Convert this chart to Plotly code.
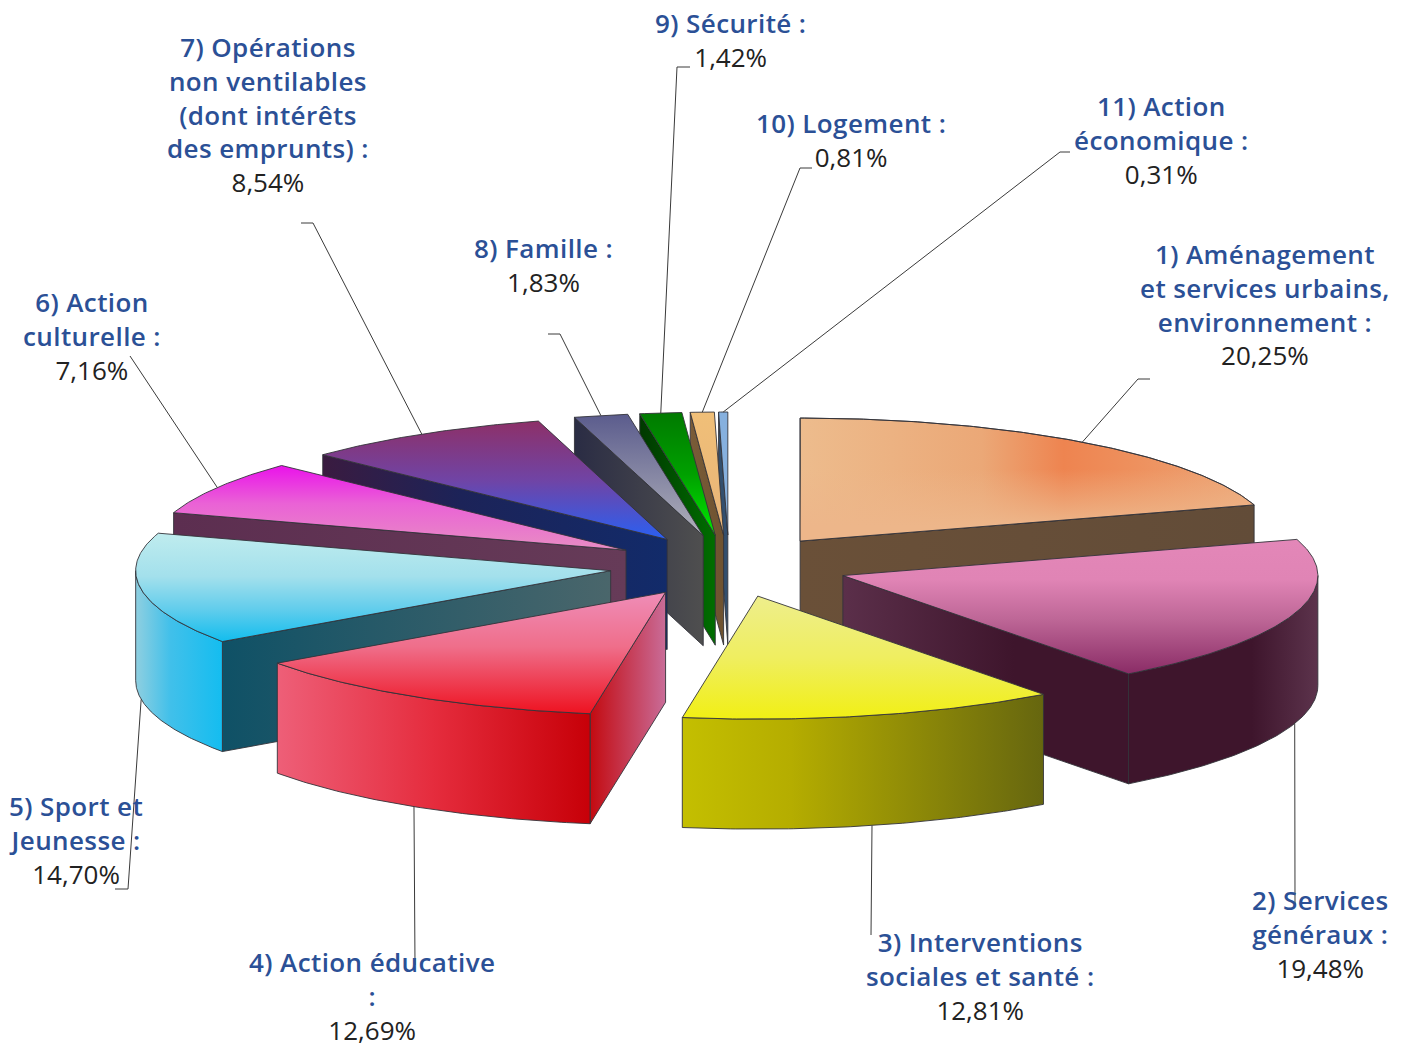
import numpy as np
import plotly.graph_objects as go

categories = [
    ["1) Aménagement", "et services urbains,", "environnement :"],
    ["2) Services", "généraux :"],
    ["3) Interventions", "sociales et santé :"],
    ["4) Action éducative", ":"],
    ["5) Sport et", "Jeunesse :"],
    ["6) Action", "culturelle :"],
    ["7) Opérations", "non ventilables", "(dont intérêts", "des emprunts) :"],
    ["8) Famille :"],
    ["9) Sécurité :"],
    ["10) Logement :"],
    ["11) Action", "économique :"],
]
values = [20.25, 19.48, 12.81, 12.69, 14.70, 7.16, 8.54, 1.83, 1.42, 0.81, 0.31]

# Projection of the exploded pie on the page
CX, CY, RX, RY, DEPTH, EXPLODE = 729, 566, 475, 123, 110, 0.252

top_colors = [
    [[0, "#edbc8d"], [0.4, "#eba877"], [0.58, "#ee8450"], [0.72, "#ee8f5c"], [1, "#eda677"]],
    [[0, "#e387b8"], [0.3, "#e084b5"], [0.6, "#bd6696"], [1, "#8a2c66"]],
    [[0, "#eeee8c"], [0.5, "#efee60"], [1, "#f1ef14"]],
    [[0, "#ef8db8"], [0.45, "#ef6e8a"], [1, "#ee1220"]],
    [[0, "#bfecee"], [0.4, "#a3e0ec"], [0.7, "#62cdec"], [1, "#12bdee"]],
    [[0, "#ea12ea"], [0.45, "#ea62d6"], [1, "#e88dc3"]],
    [[0, "#8d3068"], [0.5, "#7044a5"], [1, "#2a60f2"]],
    [[0, "#5b5c8d"], [1, "#b0b1ba"]],
    [[0, "#007a00"], [0.5, "#00a000"], [1, "#00ea00"]],
    [[0, "#f0bf78"], [1, "#e8b478"]],
    [[0, "#86b0de"], [1, "#86b0de"]],
]
edge_colors = [
    [[0, "#6a5038"], [1, "#624c38"]],
    [[0, "#5b2f4a"], [0.6, "#3e152c"], [1, "#3e152c"]],
    None,
    [[0, "#c30a10"], [1, "#c96c98"]],
    [[0, "#0f5166"], [1, "#4a666b"]],
    [[0, "#5c2e50"], [1, "#663b58"]],
    [[0, "#3a1b40"], [0.4, "#1c2358"], [1, "#122b6a"]],
    [[0, "#2a2c44"], [1, "#4f4f4f"]],
    [[0, "#003800"], [1, "#006e00"]],
    [[0, "#7a5c38"], [1, "#6e5230"]],
    [[0, "#334f6e"], [1, "#334f6e"]],
]
arc_colors = [
    None,
    [[0, "#3e152c"], [0.65, "#3e152c"], [1, "#5c334c"]],
    [[0, "#c4bf00"], [0.3, "#b5ad00"], [1, "#66660f"]],
    [[0, "#ee5f78"], [0.5, "#e52c3d"], [1, "#c70008"]],
    [[0, "#8fcfe0"], [0.4, "#41c0ea"], [1, "#14bdf0"]],
    None, None, None, None, None, None,
]

# Where the labels and the elbows of the leader lines sit (page pixels)
label_pos = [(1265, 255), (1320, 901), (980, 943), (372, 963), (76, 807), (92, 303),
             (268, 48), (543, 249), (730, 24), (851, 124), (1161, 107)]
leader_elbows = [
    [(1138, 379), (1150, 379)], [(1295, 905)], [(871, 935)], [(415, 965)],
    [(128, 889), (115, 889)], [(130, 356)], [(313, 223), (301, 223)],
    [(560, 334), (548, 334)], [(677, 67), (690, 67)], [(800, 168), (812, 168)],
    [(1060, 152), (1070, 152)],
]

BLUE, INK, OUTLINE = "#2b5096", "#222222", "#33333a"
FONT = "Open Sans, Noto Sans, sans-serif"


def face(xs, ys, colors, orientation, name, start=None, stop=None):
    xs, ys = np.asarray(xs, float), np.asarray(ys, float)
    if orientation == "vertical":
        lo, hi = ys.min(), ys.max()
    else:
        lo, hi = xs.min(), xs.max()
    return go.Scatter(
        x=np.append(xs, xs[0]), y=np.append(ys, ys[0]), mode="lines", fill="toself", name=name,
        line=dict(color=OUTLINE, width=0.9),
        fillgradient=dict(type=orientation, colorscale=colors,
                          start=lo if start is None else start,
                          stop=hi if stop is None else stop),
        hoverinfo="skip", showlegend=False,
    )


def rim(ax, ay, deg):
    t = np.radians(deg)
    return ax + RX * np.sin(t), ay - RY * np.cos(t)


cum = np.concatenate([[0], np.cumsum(values)]) * 3.6
starts, ends = cum[:-1], cum[1:]
mids = (starts + ends) / 2
apex_x = CX + EXPLODE * RX * np.sin(np.radians(mids))
apex_y = CY - EXPLODE * RY * np.cos(np.radians(mids))

fig = go.Figure()


def draw_wedge(i):
    a0, a1, ax, ay = starts[i], ends[i], apex_x[i], apex_y[i]
    name = " ".join(categories[i])
    # radial wall turned towards the viewer
    wall = a1 if a1 < 180 else (a0 if a0 > 180 else None)
    if wall is not None and edge_colors[i] is not None:
        rx_, ry_ = rim(ax, ay, wall)
        fig.add_trace(face([ax, rx_, rx_, ax], [ay, ry_, ry_ + DEPTH, ay + DEPTH],
                           edge_colors[i], "horizontal", name + " (paroi)"))
    # outer wall
    lo, hi = max(a0, 90), min(a1, 270)
    if hi > lo and arc_colors[i] is not None:
        th = np.linspace(lo, hi, 80)
        px, py = rim(ax, ay, th)
        fig.add_trace(face(np.r_[px, px[::-1]], np.r_[py, py[::-1] + DEPTH],
                           arc_colors[i], "horizontal", name + " (bord)"))
    # top
    th = np.linspace(a0, a1, max(int(a1 - a0) * 2, 6))
    px, py = rim(ax, ay, th)
    tx, ty = np.r_[ax, px], np.r_[ay, py]
    vertical = i != 0
    fig.add_trace(face(tx, ty, top_colors[i], "vertical" if vertical else "horizontal", name))
    if i == 0:  # peach wash over the lower part of the orange glow
        fig.add_trace(face(tx, ty, [[0, "rgba(237,182,138,0)"], [1, "rgba(237,182,138,1)"]],
                           "vertical", name + " (reflet)", start=ay - 72, stop=ay - 15))


for i in [10, 9, 8, 7, 6, 5, 4, 3, 0, 1, 2]:
    draw_wedge(i)

# leader lines start on the rim at each slice's mid-angle
for i, elbow in enumerate(leader_elbows):
    sx, sy = rim(apex_x[i], apex_y[i], mids[i])
    if 90 < mids[i] < 270:
        sy += DEPTH
    fig.add_trace(go.Scatter(
        x=[sx] + [p[0] for p in elbow], y=[sy] + [p[1] for p in elbow], mode="lines",
        line=dict(color="#3a3a3a", width=1), hoverinfo="skip", showlegend=False,
        name="repère " + str(i + 1),
    ))

for lines, v, (x, y) in zip(categories, values, label_pos):
    head = "<br>".join(
        f'<span style="color:{BLUE};font-weight:600;letter-spacing:0.4px">{s}</span>' for s in lines
    )
    pct = f"{v:.2f}".replace(".", ",") + "%"
    fig.add_annotation(
        x=x, y=y - 20, xref="x", yref="y", xanchor="center", yanchor="top", align="center",
        text=f'{head}<br><span style="color:{INK}">{pct}</span>', showarrow=False, borderpad=0,
        font=dict(family=FONT, size=26, color=INK),
    )

fig.update_layout(
    width=1410, height=1050, margin=dict(l=0, r=0, t=0, b=0),
    paper_bgcolor="white", plot_bgcolor="white", showlegend=False,
    xaxis=dict(range=[0, 1410], visible=False, fixedrange=True),
    yaxis=dict(range=[1050, 0], visible=False, fixedrange=True),
)
fig.write_html("out.html", post_script="document.body.style.margin='0';",
               config={"displayModeBar": False})
